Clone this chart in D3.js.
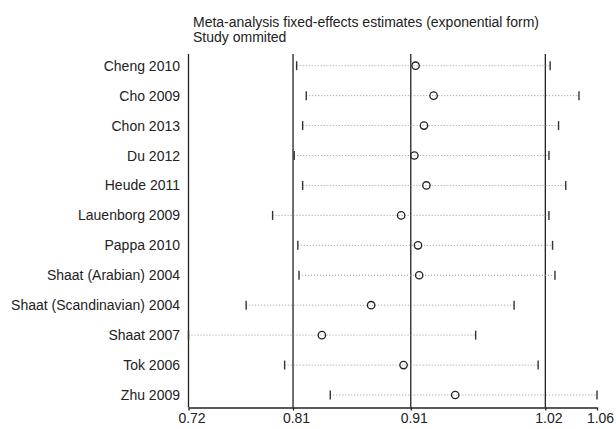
<!DOCTYPE html>
<html>
<head>
<meta charset="utf-8">
<script src="https://cdn.jsdelivr.net/npm/d3@7"></script>
<style>
  html, body { margin: 0; padding: 0; background: #fff; }
  svg { display: block; font-family: "Liberation Sans", Arial, sans-serif; }
</style>
</head>
<body>
<svg id="chart" width="616" height="429"></svg>
<script>
const studies = ["Cheng 2010", "Cho 2009", "Chon 2013", "Du 2012", "Heude 2011", "Lauenborg 2009",
  "Pappa 2010", "Shaat (Arabian) 2004", "Shaat (Scandinavian) 2004", "Shaat 2007", "Tok 2006", "Zhu 2009"];
const estimate = [0.909, 0.924, 0.916, 0.908, 0.918, 0.897, 0.911, 0.912, 0.872, 0.831, 0.899, 0.942];
const lower    = [0.810, 0.818, 0.815, 0.808, 0.815, 0.790, 0.811, 0.812, 0.768, 0.720, 0.800, 0.838];
const upper    = [1.021, 1.045, 1.028, 1.020, 1.034, 1.020, 1.023, 1.025, 0.991, 0.959, 1.011, 1.060];
const tickValues = [0.72, 0.807, 0.905, 1.017, 1.06];
const tickLabels = ["0.72", "0.81", "0.91", "1.02", "1.06"];
const refLines = [0.72, 0.807, 0.905, 1.017];
const titleLines = ["Meta-analysis fixed-effects estimates (exponential form)", "Study ommited"];

const svg = d3.select("#chart");
const x = d3.scaleLinear().domain([0.72, 1.06]).range([188.5, 597]);
const y = d3.scalePoint().domain(studies).range([65.7, 395]);
const plotTop = 54, axisY = 407.5;

// title
svg.append("g").selectAll("text").data(titleLines).join("text")
  .attr("x", 193).attr("y", (d, i) => 26.7 + i * 15)
  .attr("font-size", 14).attr("fill", "#222").text(d => d);

// reference vertical lines
svg.append("g").selectAll("line").data(refLines).join("line")
  .attr("x1", d => x(d)).attr("x2", d => x(d))
  .attr("y1", plotTop).attr("y2", axisY)
  .attr("stroke", "#222").attr("stroke-width", 1.3);

// axis
const axis = d3.axisBottom(x).tickValues(tickValues)
  .tickFormat((d, i) => tickLabels[i]).tickSize(3).tickSizeOuter(0);
const ax = svg.append("g").attr("transform", `translate(0,${axisY})`).call(axis);
ax.select(".domain").attr("stroke", "#222").attr("stroke-width", 1.3);
ax.selectAll(".tick line").attr("stroke", "#222").attr("stroke-width", 1.3);
ax.selectAll(".tick text").attr("font-size", 14).attr("fill", "#222")
  .attr("font-family", "'Liberation Sans', Arial, sans-serif")
  .attr("dx", 3).attr("dy", 9.5);

// study labels
svg.append("g").selectAll("text").data(studies).join("text")
  .attr("x", 180).attr("y", d => y(d)).attr("dy", "0.36em")
  .attr("text-anchor", "end").attr("font-size", 14).attr("fill", "#222").text(d => d);

const rows = svg.append("g").selectAll("g").data(studies).join("g");
// dotted CI lines
rows.append("line")
  .attr("x1", (d, i) => x(lower[i])).attr("x2", (d, i) => x(upper[i]))
  .attr("y1", d => y(d)).attr("y2", d => y(d))
  .attr("stroke", "#999").attr("stroke-width", 1).attr("stroke-dasharray", "1,2");
// caps
rows.append("line")
  .attr("x1", (d, i) => x(lower[i])).attr("x2", (d, i) => x(lower[i]))
  .attr("y1", d => y(d) - 4.5).attr("y2", d => y(d) + 4.5)
  .attr("stroke", "#333").attr("stroke-width", 1.4);
rows.append("line")
  .attr("x1", (d, i) => x(upper[i])).attr("x2", (d, i) => x(upper[i]))
  .attr("y1", d => y(d) - 4.5).attr("y2", d => y(d) + 4.5)
  .attr("stroke", "#333").attr("stroke-width", 1.4);
// estimates
rows.append("circle")
  .attr("cx", (d, i) => x(estimate[i])).attr("cy", d => y(d)).attr("r", 3.7)
  .attr("fill", "none").attr("stroke", "#222").attr("stroke-width", 1.3);
</script>
</body>
</html>
